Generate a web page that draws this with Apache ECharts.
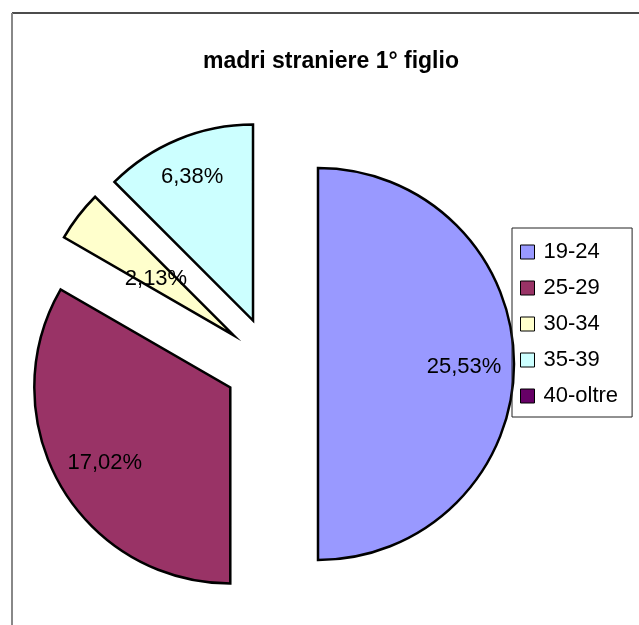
<!DOCTYPE html>
<html>
<head>
<meta charset="utf-8">
<script src="https://cdn.jsdelivr.net/npm/echarts@6/dist/echarts.min.js"></script>
<style>
    html, body { margin: 0; padding: 0; background: #fff; }
    #chart { width: 639px; height: 625px; }
</style>
</head>
<body>
<div id="chart"></div>
<script>
const AGE_GROUPS = ['19-24', '25-29', '30-34', '35-39', '40-oltre'];
const SHARES = [25.53, 17.02, 2.13, 6.38, 0];
const COLORS = ['#9999FF', '#993366', '#FFFFCC', '#CCFFFF', '#660066'];
// how far each label is pushed out from the default "inside" spot (px)
const LABEL_PUSH = [45, 44, -3, 58, 0];

function midAngles(values) {
    const total = values.reduce((a, b) => a + b, 0);
    let acc = 0;
    return values.map(v => {
        const mid = 90 - (acc + v / 2) / total * 360;
        acc += v;
        return mid * Math.PI / 180;
    });
}

const chart = echarts.init(document.getElementById('chart'));
const angles = midAngles(SHARES);

chart.setOption({
    backgroundColor: '#fff',
    animation: false,
    textStyle: { fontFamily: 'Liberation Sans, Arial, sans-serif' },
    title: {
        text: 'madri straniere 1° figlio',
        left: 331,
        top: 50,
        textAlign: 'center',
        padding: 0,
        textStyle: { fontSize: 23, fontWeight: 'bold', color: '#000' }
    },
    graphic: [
        { type: 'line', shape: { x1: 12, y1: 13, x2: 639, y2: 13 }, style: { stroke: '#111', lineWidth: 1.5 } },
        { type: 'line', shape: { x1: 12, y1: 13, x2: 12, y2: 625 }, style: { stroke: '#888', lineWidth: 2 } }
    ],
    legend: {
        orient: 'vertical',
        left: 512,
        top: 228,
        padding: [13, 14, 10, 8],
        itemGap: 14,
        itemWidth: 14,
        itemHeight: 14,
        icon: 'rect',
        borderColor: '#222',
        borderWidth: 1,
        itemStyle: { borderColor: '#000', borderWidth: 1 },
        textStyle: { fontSize: 22, color: '#000', lineHeight: 22, padding: [0, 0, 0, 4] },
        data: AGE_GROUPS
    },
    series: [{
        type: 'pie',
        center: [271, 364],
        radius: 196,
        startAngle: 90,
        clockwise: true,
        selectedMode: 'multiple',
        selectedOffset: 47,
        emphasis: { disabled: true },
        itemStyle: { borderColor: '#000', borderWidth: 2.5, borderJoin: 'miter' },
        select: { itemStyle: { borderColor: '#000', borderWidth: 2.5 } },
        label: {
            show: true,
            position: 'inside',
            fontSize: 22,
            color: '#000',
            formatter: p => p.value.toFixed(2).replace('.', ',') + '%'
        },
        labelLine: { show: false },
        labelLayout: p => ({
            dx: LABEL_PUSH[p.dataIndex] * Math.cos(angles[p.dataIndex]),
            dy: -LABEL_PUSH[p.dataIndex] * Math.sin(angles[p.dataIndex]) + 3
        }),
        data: AGE_GROUPS.map((name, i) => {
            const item = { name: name, value: SHARES[i], itemStyle: { color: COLORS[i] }, selected: SHARES[i] > 0 };
            if (SHARES[i] === 0) {
                item.itemStyle.borderWidth = 0;
                item.label = { show: false };
            }
            return item;
        })
    }]
});
</script>
</body>
</html>
